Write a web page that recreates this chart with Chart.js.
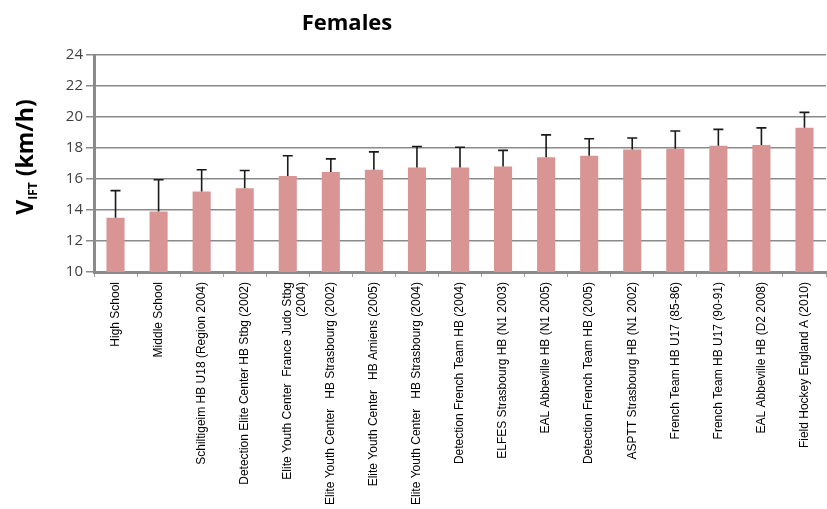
<!DOCTYPE html>
<html>
<head>
<meta charset="utf-8">
<script src="https://cdn.jsdelivr.net/npm/chart.js@4"></script>
<style>
  html, body { margin: 0; padding: 0; background: #fff; }
  #wrap { width: 827px; height: 509px; position: relative; }
</style>
</head>
<body>
<div id="wrap"><canvas id="chart"></canvas></div>
<script>
var groups = [
  'High School',
  'Middle School',
  'Schiltigeim HB U18 (Region 2004)',
  'Detection Elite Center HB Stbg (2002)',
  ['Elite Youth Center  France Judo Stbg', '(2004)'],
  'Elite Youth Center   HB Strasbourg (2002)',
  'Elite Youth Center   HB Amiens (2005)',
  'Elite Youth Center   HB Strasbourg (2004)',
  'Detection French Team HB (2004)',
  'ELFES Strasbourg HB (N1 2003)',
  'EAL Abbeville HB (N1 2005)',
  'Detection French Team HB (2005)',
  'ASPTT Strasbourg HB (N1 2002)',
  'French Team HB U17 (85-86)',
  'French Team HB U17 (90-91)',
  'EAL Abbeville HB (D2 2008)',
  'Field Hockey England A (2010)'
];
var meanVift = [13.5, 13.9, 15.2, 15.4, 16.2, 16.45, 16.6, 16.75, 16.75, 16.8, 17.4, 17.5, 17.9, 17.95, 18.15, 18.2, 19.3];
var sdVift   = [1.75, 2.05, 1.4, 1.15, 1.3, 0.85, 1.15, 1.35, 1.3, 1.05, 1.45, 1.1, 0.75, 1.15, 1.05, 1.1, 1.0];
var yTicks = [10, 12, 14, 16, 18, 20, 22, 24];

var gridGray = '#8a8a8a';

// error bars (upper only), drawn from the y scale
var errorBars = {
  id: 'errorBars',
  afterDatasetsDraw: function(chart) {
    var ctx = chart.ctx;
    var y = chart.scales.y;
    var meta = chart.getDatasetMeta(0);
    ctx.save();
    ctx.strokeStyle = '#1a1a1a';
    ctx.lineWidth = 1.6;
    meta.data.forEach(function(bar, i) {
      var top = y.getPixelForValue(meanVift[i] + sdVift[i]);
      ctx.beginPath();
      ctx.moveTo(bar.x, bar.y);
      ctx.lineTo(bar.x, top);
      ctx.moveTo(bar.x - 5, top);
      ctx.lineTo(bar.x + 5, top);
      ctx.stroke();
    });
    ctx.restore();
  }
};

// title and y axis title with subscript
var labels = {
  id: 'labels',
  afterDraw: function(chart) {
    var ctx = chart.ctx;
    ctx.save();
    ctx.fillStyle = '#000';
    ctx.font = 'bold 22px "Open Sans", sans-serif';
    ctx.textAlign = 'center';
    ctx.textBaseline = 'middle';
    ctx.fillText('Females', 347, 24);

    ctx.translate(25, 157);
    ctx.rotate(-Math.PI / 2);
    ctx.textAlign = 'left';
    ctx.textBaseline = 'alphabetic';
    var big = 'bold 23px "Open Sans", sans-serif';
    var small = 'bold 12px "Open Sans", sans-serif';
    ctx.font = big;
    var wV = ctx.measureText('V').width;
    var wRest = ctx.measureText(' (km/h)').width;
    ctx.font = small;
    var wSub = ctx.measureText('IFT').width;
    var x0 = -(wV + wSub + wRest) / 2;
    var base = 8;
    ctx.font = big;
    ctx.fillText('V', x0, base);
    ctx.font = small;
    ctx.fillText('IFT', x0 + wV, base + 4);
    ctx.font = big;
    ctx.fillText(' (km/h)', x0 + wV + wSub, base);
    ctx.restore();
  }
};

new Chart(document.getElementById('chart'), {
  type: 'bar',
  data: {
    labels: groups,
    datasets: [{
      data: meanVift,
      backgroundColor: '#d99594',
      borderWidth: 0,
      barPercentage: 0.42,
      categoryPercentage: 1
    }]
  },
  options: {
    responsive: true,
    maintainAspectRatio: false,
    animation: false,
    layout: { padding: { top: 55, right: 1, left: 0, bottom: 0 } },
    plugins: { legend: { display: false }, tooltip: { enabled: false }, title: { display: false } },
    scales: {
      x: {
        afterFit: function(s) { s.height = 237; },
        grid: { drawOnChartArea: false, drawTicks: true, tickLength: 5, color: '#a0a0a0', offset: true },
        border: { color: gridGray, width: 3 },
        ticks: {
          minRotation: 90, maxRotation: 90, autoSkip: false, padding: 5,
          color: '#000',
          font: { family: '"Liberation Sans", sans-serif', size: 12 }
        }
      },
      y: {
        min: 10, max: 24,
        afterFit: function(s) { s.width = 94; },
        afterBuildTicks: function(s) { s.ticks = yTicks.map(function(v) { return { value: v }; }); },
        grid: { color: gridGray, lineWidth: 1.5, tickLength: 8 },
        border: { color: gridGray, width: 3 },
        ticks: {
          padding: 3,
          color: '#404040',
          font: { family: '"Open Sans", sans-serif', size: 15 }
        }
      }
    }
  },
  plugins: [errorBars, labels]
});
</script>
</body>
</html>
